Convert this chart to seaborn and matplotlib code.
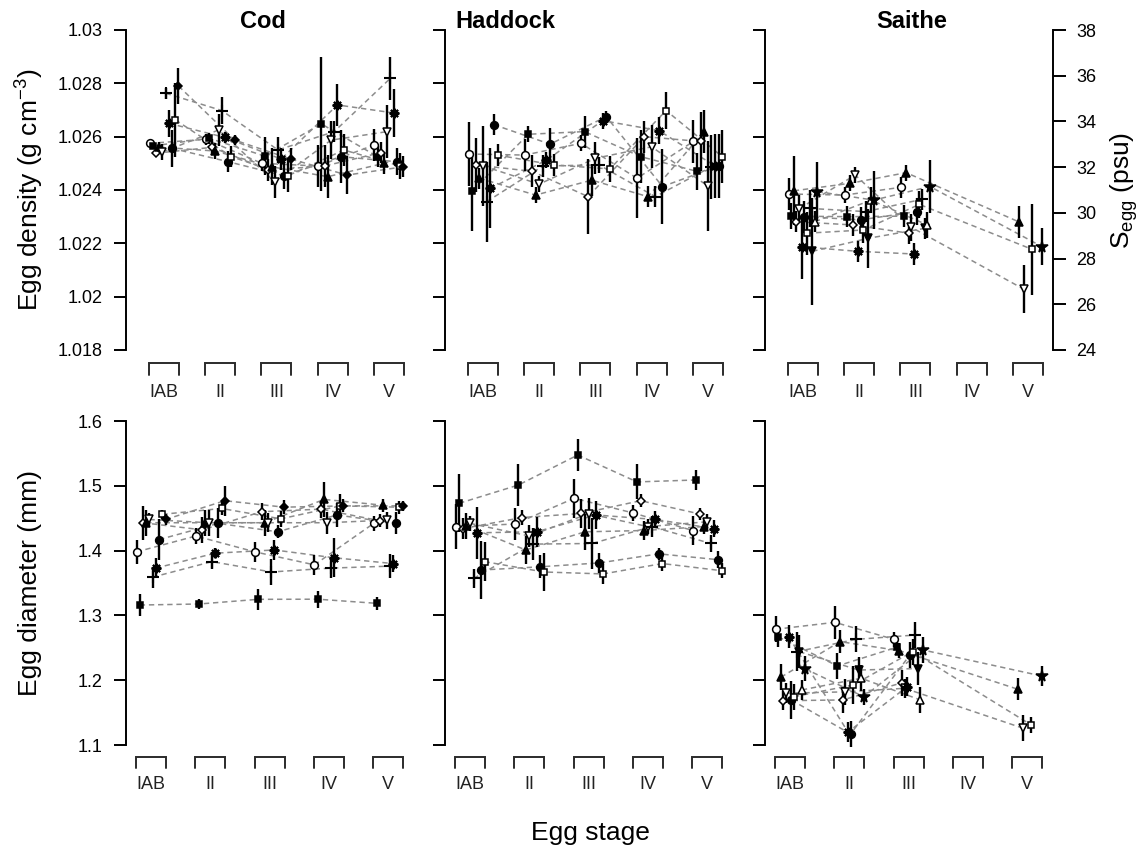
import numpy as np
import pandas as pd
import matplotlib
matplotlib.use("Agg")
import matplotlib.pyplot as plt
import matplotlib.transforms as mtransforms
import seaborn as sns

nan = np.nan

# ---------------------------------------------------------------- data
stages = ["IAB", "II", "III", "IV", "V"]
species = ["Cod", "Haddock", "Saithe"]

# Egg density (g cm-3), one row per spawning batch, one column per stage
cod_density = [
    [1.02575, 1.02590, 1.02500, 1.02490, 1.02569],
    [1.02565, 1.02594, 1.02527, 1.02648, 1.02525],
    [1.02538, 1.02560, 1.02475, 1.02490, 1.02540],
    [1.02561, 1.02546, 1.02487, 1.02450, 1.02500],
    [1.02542, 1.02625, 1.02431, 1.02587, 1.02619],
    [1.02763, 1.02698, 1.02550, 1.02619, 1.02819],
    [1.02650, 1.02597, 1.02516, 1.02719, 1.02689],
    [1.02556, 1.02506, 1.02453, 1.02525, 1.02506],
    [1.02663, 1.02525, 1.02453, 1.02550, 1.02490],
    [1.02790, 1.02587, 1.02516, 1.02456, 1.02487],
]
cod_density_err = [
    [0.0001, 0.0002, 0.0003, 0.0008, 0.0006],
    [0.0001, 0.0002, 0.0007, 0.0025, 0.0004],
    [0.0001, 0.0003, 0.0004, 0.0008, 0.0004],
    [0.0002, 0.0003, 0.0007, 0.0008, 0.0004],
    [0.0003, 0.0006, 0.0006, 0.0007, 0.0010],
    [0.0002, 0.0005, 0.0005, 0.0004, 0.0008],
    [0.0005, 0.0002, 0.0004, 0.0008, 0.0009],
    [0.0007, 0.0004, 0.0005, 0.0010, 0.0005],
    [0.0014, 0.0004, 0.0006, 0.0006, 0.0005],
    [0.00066, 0.0002, 0.0004, 0.0007, 0.0004],
]
haddock_density = [
    [1.02535, 1.02531, 1.02575, 1.02444, 1.02582],
    [1.02397, 1.02609, 1.02619, 1.02525, 1.02470],
    [1.02494, 1.02470, 1.02375, 1.02600, 1.02582],
    [1.02444, 1.02381, 1.02437, 1.02375, 1.02619],
    [1.02490, 1.02422, 1.02519, 1.02562, 1.02415],
    [1.02356, 1.02490, 1.02494, 1.02375, 1.02487],
    [1.02406, 1.02512, 1.02660, 1.02623, 1.02490],
    [1.02645, 1.02572, 1.02675, 1.02413, 1.02490],
    [1.02531, 1.02494, 1.02479, 1.02698, 1.02525],
]
haddock_density_err = [
    [0.0012, 0.0006, 0.0003, 0.0015, 0.0008],
    [0.0015, 0.0003, 0.0006, 0.0010, 0.0007],
    [0.0010, 0.0006, 0.0014, 0.0006, 0.0011],
    [0.0004, 0.0003, 0.0006, 0.0004, 0.0008],
    [0.0015, 0.0003, 0.0006, 0.0008, 0.0017],
    [0.0015, 0.0004, 0.0003, 0.0004, 0.0012],
    [0.0015, 0.0003, 0.0003, 0.0005, 0.0012],
    [0.0004, 0.0006, 0.0002, 0.0014, 0.0012],
    [0.0004, 0.0004, 0.0005, 0.0007, 0.0010],
]
saithe_density = [
    [1.02385, 1.02381, 1.02410, nan, nan],
    [1.02302, 1.02300, 1.02302, nan, nan],
    [1.02397, 1.02425, 1.02465, nan, 1.02281],
    [1.02281, 1.02269, 1.02238, nan, nan],
    [1.02330, 1.02456, 1.02260, nan, 1.02028],
    [1.02187, 1.02170, 1.02160, nan, nan],
    [1.02300, 1.02288, 1.02319, nan, nan],
    [1.02238, 1.02250, 1.02346, nan, 1.02178],
    [1.02331, 1.02319, 1.02365, nan, nan],
    [1.02170, 1.02219, 1.02256, nan, nan],
    [1.02281, 1.02362, 1.02269, nan, nan],
    [1.02394, 1.02362, 1.02413, nan, 1.02187],
]
saithe_density_err = [
    [0.0006, 0.0003, 0.0004, nan, nan],
    [0.0005, 0.0004, 0.0004, nan, nan],
    [0.0013, 0.0003, 0.0003, nan, 0.0006],
    [0.0004, 0.0004, 0.0004, nan, nan],
    [0.0005, 0.0003, 0.0005, nan, 0.0009],
    [0.0012, 0.0004, 0.0004, nan, nan],
    [0.0006, 0.0005, 0.0005, nan, nan],
    [0.0008, 0.0005, 0.0005, nan, 0.0017],
    [0.0007, 0.0004, 0.0004, nan, nan],
    [0.0020, 0.0011, 0.0004, nan, nan],
    [0.0004, 0.0005, 0.0005, nan, nan],
    [0.0011, 0.0011, 0.0010, nan, 0.0007],
]

# Egg diameter (mm)
cod_diameter = [
    [1.398, 1.4225, 1.398, 1.378, 1.442],
    [1.316, 1.3176, 1.3248, 1.325, 1.3186],
    [1.443, 1.432, 1.460, 1.464, 1.446],
    [1.443, 1.443, 1.443, 1.479, 1.470],
    [1.448, 1.443, 1.443, 1.443, 1.447],
    [1.359, 1.383, 1.367, 1.373, 1.376],
    [1.373, 1.396, 1.401, 1.389, 1.380],
    [1.417, 1.442, 1.429, 1.455, 1.442],
    [1.456, 1.465, 1.449, 1.469, 1.467],
    [1.448, 1.477, 1.467, 1.469, 1.469],
]
cod_diameter_err = [
    [0.018, 0.012, 0.015, 0.015, 0.012],
    [0.017, 0.008, 0.016, 0.013, 0.010],
    [0.026, 0.020, 0.013, 0.013, 0.010],
    [0.020, 0.020, 0.020, 0.027, 0.010],
    [0.010, 0.020, 0.015, 0.017, 0.013],
    [0.016, 0.012, 0.020, 0.016, 0.019],
    [0.015, 0.008, 0.016, 0.030, 0.013],
    [0.031, 0.023, 0.010, 0.019, 0.017],
    [0.007, 0.010, 0.012, 0.019, 0.010],
    [0.008, 0.023, 0.011, 0.010, 0.008],
]
haddock_diameter = [
    [1.437, 1.441, 1.4807, 1.458, 1.431],
    [1.473, 1.5012, 1.5475, 1.506, 1.509],
    [1.434, 1.451, 1.4573, 1.477, 1.4565],
    [1.438, 1.401, 1.429, 1.431, 1.437],
    [1.442, 1.4225, 1.457, 1.437, 1.4445],
    [1.357, 1.410, 1.411, 1.437, 1.411],
    [1.4275, 1.429, 1.455, 1.448, 1.434],
    [1.370, 1.375, 1.381, 1.395, 1.386],
    [1.383, 1.367, 1.364, 1.380, 1.369],
]
haddock_diameter_err = [
    [0.035, 0.025, 0.030, 0.013, 0.022],
    [0.045, 0.032, 0.024, 0.027, 0.016],
    [0.016, 0.012, 0.022, 0.010, 0.010],
    [0.020, 0.022, 0.028, 0.015, 0.012],
    [0.012, 0.017, 0.024, 0.012, 0.012],
    [0.015, 0.025, 0.040, 0.016, 0.013],
    [0.040, 0.023, 0.022, 0.013, 0.013],
    [0.045, 0.018, 0.015, 0.009, 0.013],
    [0.030, 0.030, 0.015, 0.012, 0.012],
]
saithe_diameter = [
    [1.2786, 1.2893, 1.263, nan, nan],
    [1.267, 1.222, 1.2508, nan, nan],
    [1.2045, 1.2595, 1.2456, nan, 1.186],
    [1.1684, 1.1695, 1.196, nan, nan],
    [1.180, 1.182, 1.1875, nan, 1.1258],
    [1.267, 1.120, 1.190, nan, nan],
    [1.1695, 1.117, 1.239, nan, nan],
    [1.1745, 1.1926, 1.244, nan, 1.131],
    [1.244, 1.263, 1.2697, nan, nan],
    [1.244, 1.2157, 1.218, nan, nan],
    [1.185, 1.203, 1.1695, nan, nan],
    [1.218, 1.1745, 1.2466, nan, 1.2065],
]
saithe_diameter_err = [
    [0.020, 0.025, 0.012, nan, nan],
    [0.015, 0.020, 0.012, nan, nan],
    [0.020, 0.018, 0.012, nan, 0.017],
    [0.015, 0.020, 0.020, nan, nan],
    [0.015, 0.020, 0.015, nan, 0.020],
    [0.018, 0.015, 0.015, nan, nan],
    [0.030, 0.020, 0.020, nan, nan],
    [0.020, 0.030, 0.020, nan, 0.012],
    [0.030, 0.020, 0.020, nan, nan],
    [0.025, 0.020, 0.025, nan, nan],
    [0.015, 0.020, 0.020, nan, nan],
    [0.020, 0.012, 0.020, nan, 0.015],
]

density_ticks = [1.018, 1.020, 1.022, 1.024, 1.026, 1.028, 1.030]
density_labels = ["1.018", "1.02", "1.022", "1.024", "1.026", "1.028", "1.03"]
diameter_ticks = [1.1, 1.2, 1.3, 1.4, 1.5, 1.6]
diameter_labels = ["1.1", "1.2", "1.3", "1.4", "1.5", "1.6"]
salinity_ticks = [24, 26, 28, 30, 32, 34, 36, 38]

# ---------------------------------------------------------------- styles
ASTER = (8, 2, 0)
# (marker, filled, size)
sym = {
    "o": ("o", False, 5.6), "O": ("o", True, 5.6),
    "s": ("s", False, 5.0), "S": ("s", True, 5.0),
    "d": ("D", False, 4.3), "D": ("D", True, 4.5),
    "^": ("^", False, 5.8), "T": ("^", True, 5.8),
    "v": ("v", False, 5.8), "V": ("v", True, 5.8),
    "+": ("+", False, 8.0), "*": (ASTER, False, 7.0),
    "k": ("*", True, 8.5),
}
cod_syms = ["o", "S", "d", "T", "v", "+", "*", "O", "s", "D"]
haddock_syms = ["o", "S", "d", "T", "v", "+", "*", "O", "s"]
saithe_syms = ["o", "S", "T", "d", "v", "*", "O", "s", "+", "V", "^", "k"]

# ---------------------------------------------------------------- layout
sns.set_theme(style="ticks")
plt.rcParams["font.family"] = ["Liberation Sans", "DejaVu Sans"]
plt.rcParams["mathtext.fontset"] = "custom"
plt.rcParams["mathtext.rm"] = "Liberation Sans"
plt.rcParams["mathtext.it"] = "Liberation Sans:italic"
plt.rcParams["mathtext.bf"] = "Liberation Sans:bold"
plt.rcParams["text.color"] = "black"
plt.rcParams["axes.edgecolor"] = "black"

W, H = 1143, 856
fig = plt.figure(figsize=(W / 100, H / 100), dpi=100)

col_x = [126, 445, 765]
panel_w = 288
rows_geom = {
    "top": dict(y0=30, y1=350, first=38, step=56.2, ylim=(1.018, 1.030),
                br_top=-0.041, br_bot=-0.078, lab=-0.134),
    "bottom": dict(y0=421, y1=745, first=25, step=59.3, ylim=(1.1, 1.6),
                   br_top=-0.037, br_bot=-0.071, lab=-0.121),
}

LINE_COL = "#8c8c8c"
TICK_KW = dict(direction="out", length=9, width=1.4, labelsize=13, pad=8, colors="black")


def make_axes(col, row):
    g = rows_geom[row]
    ax = fig.add_axes([col_x[col] / W, 1 - g["y1"] / H, panel_w / W, (g["y1"] - g["y0"]) / H])
    ax.set_facecolor("none")
    lo = 1 - g["first"] / g["step"]
    hi = 1 + (panel_w - g["first"]) / g["step"]
    ax.set_xlim(lo, hi)
    ax.set_ylim(*g["ylim"])
    for side in ("top", "right", "bottom"):
        ax.spines[side].set_visible(False)
    ax.spines["left"].set_linewidth(1.4)
    ax.spines["left"].set_bounds(*g["ylim"])
    ax.set_xticks([])
    ax.tick_params(axis="y", **TICK_KW)
    ax.set_xlabel("")
    ax.set_ylabel("")
    return ax


def draw_brackets(ax, row):
    g = rows_geom[row]
    trans = mtransforms.blended_transform_factory(ax.transData, ax.transAxes)
    h = 15 / g["step"]
    for k, name in enumerate(stages, start=1):
        ax.plot([k - h, k - h, k + h, k + h], [g["br_bot"], g["br_top"], g["br_top"], g["br_bot"]],
                transform=trans, clip_on=False, color="#2b2b2b", lw=1.4,
                solid_joinstyle="miter")
        ax.text(k, g["lab"], name, transform=trans, ha="center", va="center",
                fontsize=13, color="#222222")


def draw_series(ax, row, values, errors, syms):
    g = rows_geom[row]
    spread = 29 / g["step"]
    n = len(values)
    recs = []
    for i, (vals, errs) in enumerate(zip(values, errors)):
        off = (i / (n - 1) - 0.5) * spread
        for k, (v, e) in enumerate(zip(vals, errs), start=1):
            if not np.isnan(v):
                recs.append(dict(series=i, x=k + off, y=v, err=e))
    df = pd.DataFrame(recs)
    sns.lineplot(data=df, x="x", y="y", units="series", estimator=None, sort=True,
                 color=LINE_COL, lw=1.1, ax=ax, legend=False, zorder=1)
    for ln in ax.get_lines():
        ln.set_linestyle((0, (3.5, 2.5)))
    for i, sub in df.groupby("series"):
        ax.errorbar(sub["x"], sub["y"], yerr=sub["err"], fmt="none", ecolor="black",
                    elinewidth=1.7, capsize=0, zorder=2, clip_on=False)
        m, filled, ms = sym[syms[i]]
        line_like = m in ("+", ASTER)
        ax.plot(sub["x"], sub["y"], ls="none", marker=m, ms=ms,
                mfc=("black" if filled else ("none" if line_like else "white")),
                mec="black", mew=(1.5 if line_like else 1.1), zorder=3, clip_on=False)
    ax.set_xlabel("")
    ax.set_ylabel("")


density_sets = [(cod_density, cod_density_err, cod_syms),
                (haddock_density, haddock_density_err, haddock_syms),
                (saithe_density, saithe_density_err, saithe_syms)]
diameter_sets = [(cod_diameter, cod_diameter_err, cod_syms),
                 (haddock_diameter, haddock_diameter_err, haddock_syms),
                 (saithe_diameter, saithe_diameter_err, saithe_syms)]

for col in range(3):
    # density row
    ax = make_axes(col, "top")
    vals, errs, syms = density_sets[col]
    draw_series(ax, "top", vals, errs, syms)
    ax.set_xlim(1 - 38 / 56.2, 1 + (panel_w - 38) / 56.2)
    ax.set_yticks(density_ticks)
    if col == 0:
        ax.set_yticklabels(density_labels)
    else:
        ax.tick_params(axis="y", labelleft=False)
    draw_brackets(ax, "top")
    if col == 2:
        axr = ax.twinx()
        axr.set_ylim(24, 38)
        for side in ("top", "left", "bottom"):
            axr.spines[side].set_visible(False)
        axr.spines["right"].set_visible(True)
        axr.spines["right"].set_linewidth(1.4)
        axr.spines["right"].set_bounds(24, 38)
        axr.set_yticks(salinity_ticks)
        axr.set_yticklabels([str(t) for t in salinity_ticks])
        axr.tick_params(axis="y", **TICK_KW)
        axr.grid(False)

    # diameter row
    ax = make_axes(col, "bottom")
    vals, errs, syms = diameter_sets[col]
    draw_series(ax, "bottom", vals, errs, syms)
    ax.set_xlim(1 - 25 / 59.3, 1 + (panel_w - 25) / 59.3)
    ax.set_yticks(diameter_ticks)
    if col == 0:
        ax.set_yticklabels(diameter_labels)
    else:
        ax.tick_params(axis="y", labelleft=False)
    draw_brackets(ax, "bottom")

# titles and axis labels
for name, px in zip(species, [263, 505, 912]):
    fig.text(px / W, 1 - 22 / H, name, ha="center", va="center",
             fontsize=17, fontweight="bold", color="black")

fig.text(30 / W, 1 - 190 / H, "Egg density (g cm$^{-3}$)", rotation=90,
         ha="center", va="center", fontsize=19)
fig.text(30 / W, 1 - 583 / H, "Egg diameter (mm)", rotation=90,
         ha="center", va="center", fontsize=19)
fig.text(590 / W, 1 - 833 / H, "Egg stage", ha="center", va="center", fontsize=19)
fig.text(1124 / W, 1 - 190 / H, "S$_{\\mathrm{egg}}$ (psu)", rotation=90,
         ha="center", va="center", fontsize=19)

fig.savefig("out.png", dpi=100, facecolor="white")
